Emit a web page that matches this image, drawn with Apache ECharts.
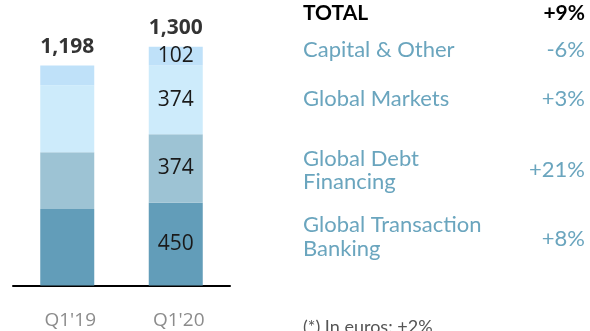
<!DOCTYPE html>
<html>
<head>
<meta charset="utf-8">
<script src="https://cdn.jsdelivr.net/npm/echarts@6/dist/echarts.min.js"></script>
<style>
  html, body { margin: 0; padding: 0; background: #fff; }
  #chart { width: 590px; height: 331px; }
</style>
</head>
<body>
<div id="chart"></div>
<script>
// Quarterly revenue by business line (EUR mn)
const categories = ["Q1'19", "Q1'20"];
const gtb = [416, 450];        // Global Transaction Banking
const gdf = [310, 374];        // Global Debt Financing
const gm = [364, 374];         // Global Markets
const capital = [108, 102];    // Capital & Other
const totals = [1198, 1300];

// Side panel: business line and year-on-year change
const panelNames = ['TOTAL', 'Capital & Other', 'Global Markets', 'Global Debt\nFinancing', 'Global Transaction\nBanking'];
const panelChanges = ['+9%', '-6%', '+3%', '+21%', '+8%'];
const footnote = '(*) In euros: +2%';

const colors = ['#629db9', '#9dc3d4', '#cdebfb', '#bfe1f9'];
const fmt = n => n.toLocaleString('en-US');

const segLabel = {
  show: true,
  position: 'inside',
  color: '#1a1a1a',
  fontSize: 21,
  fontFamily: 'Open Sans',
  formatter: p => (p.dataIndex === 1 ? fmt(p.value) : '')
};

function bar(name, data, color) {
  return {
    name, type: 'bar', stack: 'rev', data, barWidth: 54,
    itemStyle: { color },
    label: segLabel,
    emphasis: { disabled: true }
  };
}

const blue = '#6aa5be';
const graphics = [];
const rowBaselines = [[21], [58], [107], [167, 190], [233, 257]];
const changeBaselines = [21, 58, 107, 178, 247];
panelNames.forEach((name, i) => {
  const bold = i === 0;
  const size = bold ? 21 : 22;
  name.split('\n').forEach((line, j) => {
    graphics.push({
      type: 'text', left: 303, top: rowBaselines[i][j] - size * 0.86,
      style: { text: line, fill: bold ? '#000' : blue, font: (bold ? 'bold ' : '') + size + 'px Lato' }
    });
  });
  graphics.push({
    type: 'text', right: 5, top: changeBaselines[i] - size * 0.86,
    style: { text: panelChanges[i], fill: bold ? '#000' : blue, font: (bold ? 'bold ' : '') + size + 'px Lato', align: 'right' }
  });
});
graphics.push({
  type: 'text', left: 303, top: 318,
  style: { text: footnote, fill: '#555', font: '18px Lato' }
});

const chart = echarts.init(document.getElementById('chart'));
chart.setOption({
  animation: false,
  grid: { left: 13, right: 360, top: 46.7, bottom: 45.5 },
  xAxis: {
    type: 'category', data: categories,
    axisLine: { lineStyle: { color: '#000', width: 2 } },
    axisTick: { show: false },
    axisLabel: { color: '#8c8c8c', fontSize: 19, fontFamily: 'Open Sans', margin: 26, padding: [0, 0, 0, 6] }
  },
  yAxis: { type: 'value', min: 0, max: 1300, show: false, splitLine: { show: false } },
  series: [
    bar('Global Transaction Banking', gtb, colors[0]),
    bar('Global Debt Financing', gdf, colors[1]),
    bar('Global Markets', gm, colors[2]),
    bar('Capital & Other', capital, colors[3]),
    {
      name: 'Total', type: 'scatter', data: totals, symbolSize: 0,
      label: {
        show: true, position: 'top', distance: 8,
        color: '#000', fontWeight: 'bold', fontSize: 21, fontFamily: 'Open Sans',
        formatter: p => fmt(p.value)
      },
      emphasis: { disabled: true }
    }
  ],
  graphic: graphics
});
</script>
</body>
</html>
